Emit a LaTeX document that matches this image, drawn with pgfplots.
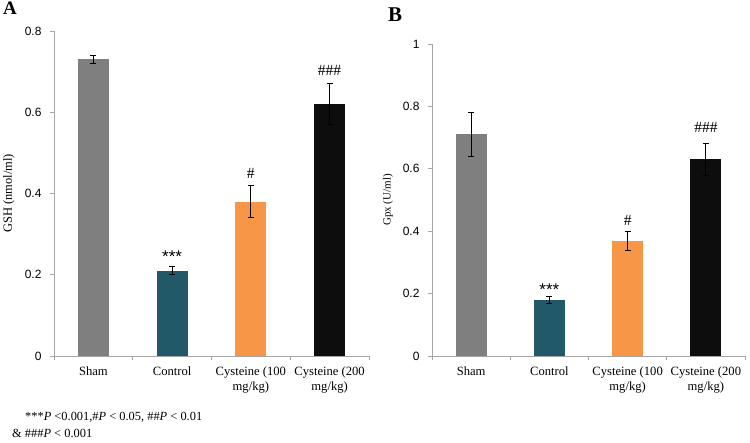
\documentclass[border=0pt]{standalone}
\usepackage{fontspec}
\setmainfont{Liberation Serif}
\setsansfont{Liberation Sans}
\usepackage{pgfplots}
\pgfplotsset{compat=1.18}
\definecolor{shamc}{HTML}{7F7F7F}
\definecolor{ctrlc}{HTML}{215968}
\definecolor{cys1c}{HTML}{F79646}
\definecolor{cys2c}{HTML}{0D0D0D}
\definecolor{axc}{HTML}{A6A6A6}
\pgfplotsset{
 myax/.style={scale only axis, ybar, bar width=31pt, bar shift=0pt,
  xmin=-0.5, xmax=3.5, ymin=0,
  axis x line*=bottom, axis y line*=left,
  axis line style={axc, line width=0.8pt, -},
  xtick={-0.5,0.5,1.5,2.5,3.5}, xticklabels={},
  extra x ticks={0,1,2,3},
  extra x tick labels={Sham,Control,{Cysteine (100\\mg/kg)},{Cysteine (200\\mg/kg)}},
  extra x tick style={major tick length=0pt, tick label style={font=\fontsize{12.6}{15}\selectfont, align=center, yshift=-7pt}},
  tick align=outside, major tick length=4pt, tick style={axc, line width=0.8pt},
  y tick label style={font=\sffamily\fontsize{12}{14}\selectfont, xshift=-5pt},
  /pgf/number format/assume math mode=true,
  ylabel style={rotate=0, anchor=center},
 },
 eb/.style={error bars/.cd, y dir=both, y explicit,
  error bar style={black, line width=0.8pt},
  error mark options={rotate=90, black, mark size=3pt, line width=0.8pt}},
}
\begin{document}
\begin{tikzpicture}[x=1pt,y=1pt]
\useasboundingbox (0,0) rectangle (750,442);
% Panel A
\begin{axis}[myax, at={(54pt,86pt)}, anchor=south west, width=315pt, height=325pt,
  ymax=0.8, ytick={0,0.2,0.4,0.6,0.8},
  ylabel={GSH (nmol/ml)}, ylabel style={at={(rel axis cs:-0.143,0.5)}, font=\fontsize{12.5}{14}\selectfont}]
\addplot[fill=shamc, draw=none, eb] table[x index=0, y index=1, y error index=2] {
x y e
0 0.73 0.01
};
\addplot[fill=ctrlc, draw=none, eb] table[x index=0, y index=1, y error index=2] {
x y e
1 0.21 0.01
};
\addplot[fill=cys1c, draw=none, eb] table[x index=0, y index=1, y error index=2] {
x y e
2 0.38 0.04
};
\addplot[fill=cys2c, draw=none, eb] table[x index=0, y index=1, y error index=2] {
x y e
3 0.62 0.05
};
\node[font=\sffamily\fontsize{17}{18}\selectfont] at (axis cs:1,0.245) {***};
\node[font=\fontsize{15.5}{17}\selectfont] at (axis cs:2,0.450) {\#};
\node[font=\fontsize{15.5}{17}\selectfont] at (axis cs:3,0.704) {\#\#\#};
\end{axis}
% Panel B
\begin{axis}[myax, at={(432pt,86pt)}, anchor=south west, width=313pt, height=312pt,
  ymax=1, ytick={0,0.2,0.4,0.6,0.8,1},
  ylabel={Gpx (U/ml)}, ylabel style={at={(rel axis cs:-0.141,0.5)}, font=\fontsize{11}{12}\selectfont}]
\addplot[fill=shamc, draw=none, eb] table[x index=0, y index=1, y error index=2] {
x y e
0 0.71 0.07
};
\addplot[fill=ctrlc, draw=none, eb] table[x index=0, y index=1, y error index=2] {
x y e
1 0.18 0.01
};
\addplot[fill=cys1c, draw=none, eb] table[x index=0, y index=1, y error index=2] {
x y e
2 0.37 0.03
};
\addplot[fill=cys2c, draw=none, eb] table[x index=0, y index=1, y error index=2] {
x y e
3 0.63 0.05
};
\node[font=\sffamily\fontsize{17}{18}\selectfont] at (axis cs:1,0.214) {***};
\node[font=\fontsize{15.5}{17}\selectfont] at (axis cs:2,0.436) {\#};
\node[font=\fontsize{15.5}{17}\selectfont] at (axis cs:3,0.734) {\#\#\#};
\end{axis}
% panel letters
\node[anchor=base west, inner sep=0pt, font=\bfseries\fontsize{19}{20}\selectfont] at (3,427) {A};
\node[anchor=base west, inner sep=0pt, font=\bfseries\fontsize{21}{22}\selectfont] at (388,420) {B};
% footnote
\node[anchor=base west, inner sep=0pt, font=\fontsize{12.4}{13}\selectfont] at (25,22) {***\textit{P} <0.001,\#\textit{P} < 0.05, \#\#\textit{P} < 0.01};
\node[anchor=base west, inner sep=0pt, font=\fontsize{12.4}{13}\selectfont] at (12,5) {\& \#\#\#\textit{P} < 0.001};
\end{tikzpicture}
\end{document}
